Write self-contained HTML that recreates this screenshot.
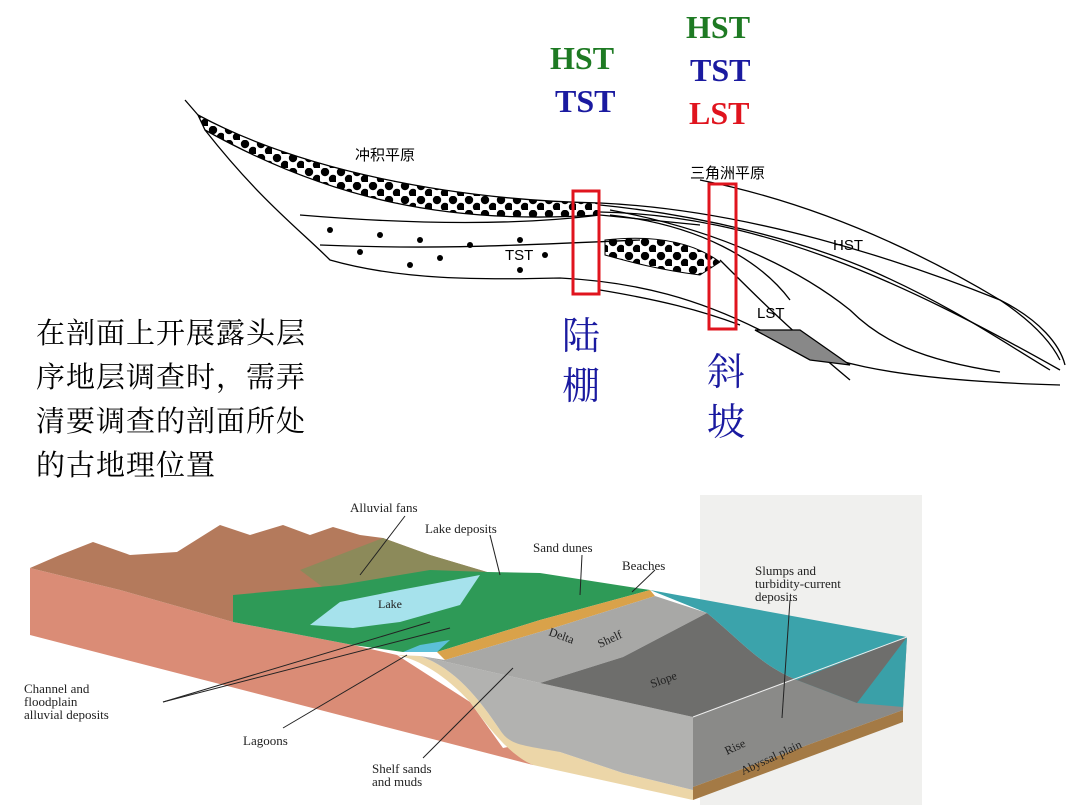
<!DOCTYPE html>
<html><head><meta charset="utf-8"><style>
html,body{margin:0;padding:0;background:#fff;}
body{width:1080px;height:810px;position:relative;overflow:hidden;font-family:"Liberation Serif","Noto Serif CJK SC",serif;}
.t{position:absolute;font-weight:bold;font-family:"Liberation Serif",serif;font-size:32px;line-height:1;}
.cn{position:absolute;font-family:"Liberation Serif","Noto Serif CJK SC",serif;}
</style></head><body>
<svg width="1080" height="810" style="position:absolute;left:0;top:0">
<defs>
<pattern id="dots" width="16" height="14" patternUnits="userSpaceOnUse">
<circle cx="5" cy="4" r="4.2" fill="#000"/><circle cx="13" cy="11" r="4.2" fill="#000"/>
</pattern>
</defs>
<!-- top cross-section -->
<g fill="none" stroke="#000" stroke-width="1.3">
<path d="M198,115 C300,170 450,200 600,203 L598,215 C450,225 330,200 205,130 Z" fill="url(#dots)"/>
<path d="M185,100 L198,115"/>
<path d="M600,203 C750,210 900,260 1000,300 C1040,320 1060,345 1065,365"/>
<path d="M600,212 C760,215 900,280 1060,370"/>
<path d="M205,130 C260,200 300,230 330,260 C400,280 480,280 560,278 C640,282 700,300 760,330 C820,360 880,380 1060,385"/>
<path d="M300,215 C420,225 520,225 600,215 L700,225"/>
<path d="M320,245 C440,250 520,245 640,240"/>
<path d="M600,205 C700,215 800,240 870,270 C950,305 1000,340 1050,370"/>
<path d="M610,210 C720,230 800,270 850,310 C880,340 920,360 1000,372"/>
<path d="M700,180 C800,200 900,240 1000,300 C1030,320 1050,340 1060,360"/>
<path d="M610,215 C700,225 760,260 790,300"/>
<path d="M720,260 C760,300 790,330 850,380"/>
<path d="M600,290 C660,300 700,310 740,325"/>
<path d="M755,330 L800,330 L850,365 L810,360 Z" fill="#888"/>
</g>
<g fill="#000">
<circle cx="330" cy="230" r="3"/><circle cx="380" cy="235" r="3"/><circle cx="420" cy="240" r="3"/><circle cx="470" cy="245" r="3"/><circle cx="520" cy="240" r="3"/><circle cx="360" cy="252" r="3"/><circle cx="440" cy="258" r="3"/><circle cx="520" cy="270" r="3"/><circle cx="545" cy="255" r="3"/><circle cx="410" cy="265" r="3"/>
</g>
<path d="M605,240 C650,235 690,240 720,262 L700,275 C660,270 630,262 605,255 Z" fill="url(#dots)" stroke="#000"/>
<text x="505" y="260" font-family="Liberation Sans" font-size="15">TST</text>
<text x="833" y="250" font-family="Liberation Sans" font-size="15">HST</text>
<text x="757" y="318" font-family="Liberation Sans" font-size="15">LST</text>
<text x="355" y="160" font-family="Noto Sans CJK SC" font-size="15">冲积平原</text>
<text x="690" y="178" font-family="Noto Sans CJK SC" font-size="15">三角洲平原</text>
<rect x="573" y="191" width="26" height="103" fill="none" stroke="#e0141e" stroke-width="3"/>
<rect x="709" y="184" width="27" height="145" fill="none" stroke="#e0141e" stroke-width="3"/>

<!-- bottom block diagram -->
<rect x="700" y="495" width="222" height="310" fill="#f0f0ee"/>
<!-- pink front face -->
<polygon points="30,568 30,635 533,765 540,740 503,748 470,702 397,655 353,645 233,622 120,590" fill="#da8c76"/>
<!-- tan layer -->
<path d="M397,655 L420,656 C455,668 480,700 500,730 C520,750 540,745 560,752 L623,773 L693,790 L693,800 L533,765 C510,755 490,730 470,702 C445,675 420,660 397,655 Z" fill="#ecd6a8"/>
<!-- gray front face -->
<path d="M420,656 L540,683 L693,717 L693,790 L623,773 L560,752 C520,745 510,745 500,730 C480,700 455,668 420,656 Z" fill="#b2b2b0"/>
<!-- right face -->
<polygon points="693,717 907,637 903,710 693,787" fill="#8a8a88"/>
<polygon points="797,680 907,637 903,707 857,703" fill="#3aa0a8"/>
<polygon points="693,787 903,710 903,722 693,800" fill="#a47a45"/>
<!-- mountains -->
<polygon points="30,568 60,555 93,542 130,555 177,552 220,525 250,535 283,525 310,535 333,527 360,535 383,538 430,555 487,572 420,590 340,600 233,595 233,622 120,590" fill="#b47a5c"/>
<polygon points="300,570 383,538 430,555 487,572 420,590 340,600" fill="#8c8a5a"/>
<!-- green plain -->
<polygon points="233,595 340,585 430,570 487,572 540,573 630,587 650,590 540,620 437,652 403,652 353,645 233,622" fill="#2e9a57"/>
<polygon points="310,625 340,602 400,590 480,575 460,605 400,622 353,628" fill="#a6e2ec"/>
<polygon points="403,652 437,652 450,640 420,645" fill="#5cc0d8"/>
<!-- beach -->
<polygon points="437,652 540,620 650,590 655,596 560,626 445,660" fill="#d9a24a"/>
<!-- shelf top -->
<polygon points="420,656 445,660 560,626 655,596 707,613 623,657 540,683" fill="#a8a8a6"/>
<!-- slope -->
<path d="M540,683 L623,657 L707,613 C740,640 760,665 797,680 L857,703 L907,637 L693,717 Z" fill="#6e6e6c"/>
<!-- ocean top -->
<path d="M650,590 L907,637 L797,680 C760,665 740,640 707,613 Z" fill="#3ba3ab"/>
<polyline points="693,717 907,637" fill="none" stroke="#eee" stroke-width="1"/>
<g stroke="#222" stroke-width="1" fill="none">
<path d="M163,702 L430,622"/><path d="M163,702 L450,628"/>
<path d="M283,728 L407,655"/><path d="M423,758 L513,668"/>
<path d="M405,516 L360,575"/><path d="M490,535 L500,575"/>
<path d="M582,555 L580,595"/><path d="M655,570 L632,592"/>
<path d="M790,600 L782,718"/>
</g>
<g font-family="Liberation Serif" font-size="13" fill="#222">
<text x="350" y="512">Alluvial fans</text>
<text x="425" y="533">Lake deposits</text>
<text x="533" y="552">Sand dunes</text>
<text x="622" y="570">Beaches</text>
<text x="755" y="575">Slumps and</text>
<text x="755" y="588">turbidity-current</text>
<text x="755" y="601">deposits</text>
<text x="378" y="608" font-size="12">Lake</text>
<text x="24" y="693">Channel and</text>
<text x="24" y="706">floodplain</text>
<text x="24" y="719">alluvial deposits</text>
<text x="243" y="745">Lagoons</text>
<text x="372" y="773">Shelf sands</text>
<text x="372" y="786">and muds</text>
<text x="548" y="635" font-size="12" transform="rotate(20 548 635)">Delta</text>
<text x="600" y="648" font-size="12" transform="rotate(-25 600 648)">Shelf</text>
<text x="652" y="688" font-size="12" transform="rotate(-20 652 688)">Slope</text>
<text x="727" y="755" font-size="12" transform="rotate(-25 727 755)">Rise</text>
<text x="743" y="775" font-size="12" transform="rotate(-25 743 775)">Abyssal plain</text>
</g>
</svg>
<div class="t" style="left:550px;top:42px;color:#1e7a23">HST</div>
<div class="t" style="left:555px;top:85px;color:#1a1aa0">TST</div>
<div class="t" style="left:686px;top:11px;color:#1e7a23">HST</div>
<div class="t" style="left:690px;top:54px;color:#1a1aa0">TST</div>
<div class="t" style="left:689px;top:97px;color:#e0141e">LST</div>
<div class="cn" style="left:562px;top:312px;font-size:38px;line-height:50px;color:#1a1aa0">陆<br>棚</div>
<div class="cn" style="left:707px;top:348px;font-size:38px;line-height:50px;color:#1a1aa0">斜<br>坡</div>
<div class="cn" style="left:36px;top:312px;font-size:29px;line-height:44px;color:#000;letter-spacing:1px">在剖面上开展露头层<br>序地层调查时，需弄<br>清要调查的剖面所处<br>的古地理位置</div>
</body></html>
